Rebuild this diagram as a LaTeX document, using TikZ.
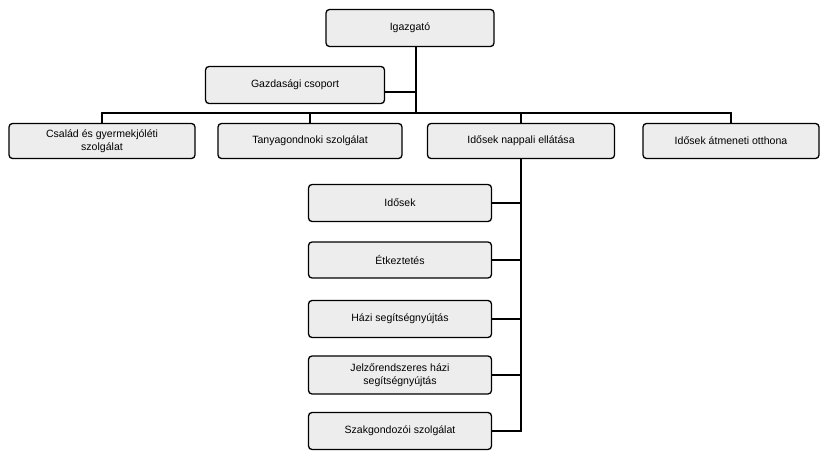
\documentclass[tikz,border=0pt]{standalone}
\usepackage{fontspec}
\setmainfont{Liberation Sans}
\usepackage{tikz}
\usetikzlibrary{patterns}

\begin{document}
\begin{tikzpicture}[x=0.03cm,y=-0.03cm,font=\small,line cap=round,
  unit/.style={draw=black,line width=1.1pt,rounded corners=3pt,fill=gray!14,
    align=center,inner sep=1pt,minimum height=1.05cm},
  link/.style={line width=1.8pt}]
\useasboundingbox (0,0) rectangle (821,453);
% vezetes
\node[unit,minimum width=5.04cm,minimum height=1.11cm] (igazgato) at (410,28) {Igazgató};
\node[unit,minimum width=5.37cm,minimum height=1.11cm] (gazd) at (295,85) {Gazdasági csoport};
\coordinate (bar) at (416,113);
% szervezeti egysegek
\node[unit,minimum width=5.58cm] (csalad) at (102,141) {Család és gyermekjóléti\\szolgálat};
\node[unit,minimum width=5.52cm] (tanya) at (310,141) {Tanyagondnoki szolgálat};
\node[unit,minimum width=5.61cm] (napp) at (521,141) {Idősek nappali ellátása};
\node[unit,minimum width=5.28cm] (atmen) at (731,141) {Idősek átmeneti otthona};
% nappali ellatas alatt
\node[unit,minimum width=5.49cm,minimum height=1.11cm] (klub) at (400,203) {Idősek};
\node[unit,minimum width=5.49cm,minimum height=1.08cm] (etkez) at (400,260) {Étkeztetés};
\node[unit,minimum width=5.49cm,minimum height=1.11cm] (hazi) at (400,319) {Házi segítségnyújtás};
\node[unit,minimum width=5.49cm,minimum height=1.14cm] (jelzo) at (400,375) {Jelzőrendszeres házi\\segítségnyújtás};
\node[unit,minimum width=5.49cm,minimum height=1.11cm] (szak) at (400,431) {Szakgondozói szolgálat};
% vonalak
\draw[link] (igazgato.south -| bar) -- (bar);
\draw[link] (gazd.east |- 0,92) -- (bar |- 0,92);
\draw[link] (csalad.north |- bar) -- (atmen.north |- bar);
\foreach \n in {csalad,tanya,napp,atmen}
  \draw[link] (\n.north) -- (\n.north |- bar);
\draw[link] (napp.south) -- (napp.south |- szak.east);
\foreach \n in {klub,etkez,hazi,jelzo,szak}
  \draw[link] (\n.east) -- (\n.east -| napp.south);
\end{tikzpicture}
\end{document}
